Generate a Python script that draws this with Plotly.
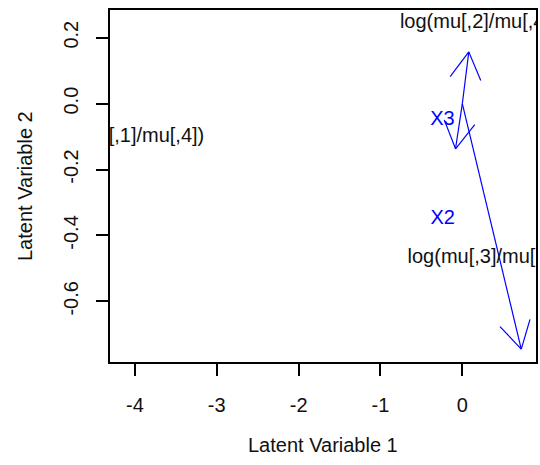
import math
import plotly.graph_objects as go

# ---- data ----
var_names = ["log(mu[,1]/mu[,4])", "log(mu[,2]/mu[,4])", "log(mu[,3]/mu[,4])"]
arrow_x = [-0.083, 0.079, 0.720]
arrow_y = [-0.137, 0.157, -0.745]
label_x = [-4.11, 0.195, 0.288]
label_y = [-0.100, 0.245, -0.469]

site_names = ["X2", "X3"]
site_x = [-0.240, -0.243]
site_y = [-0.350, -0.051]

x_tickvals = [-4, -3, -2, -1, 0]
x_ticktext = ["-4", "-3", "-2", "-1", "0"]
y_tickvals = [-0.6, -0.4, -0.2, 0.0, 0.2]
y_ticktext = ["-0.6", "-0.4", "-0.2", "0.0", "0.2"]

x_title = "Latent Variable 1"
y_title = "Latent Variable 2"

# ---- layout geometry ----
W, H = 540, 465
ML, MR, MT, MB = 110, 2, 10, 103
x_range = [-4.304, 0.900]
y_range = [-0.784, 0.284]
FONT = "Liberation Sans, Arial, sans-serif"
FS = 20
BLUE = "#0000FF"

sx = (W - ML - MR) / (x_range[1] - x_range[0])
sy = (H - MT - MB) / (y_range[1] - y_range[0])

# arrows (shaft + open V head, like R's arrows())
head_len = 31.0
head_ang = math.radians(30)
ax_pts, ay_pts = [], []
for tx, ty in zip(arrow_x, arrow_y):
    ax_pts += [0, tx, None]
    ay_pts += [0, ty, None]
    dxp, dyp = tx * sx, ty * sy
    n = math.hypot(dxp, dyp)
    bx, by = -dxp / n, -dyp / n
    for s in (1, -1):
        c, si = math.cos(s * head_ang), math.sin(s * head_ang)
        rx, ry = bx * c - by * si, bx * si + by * c
        ax_pts += [tx + head_len * rx / sx, tx, None]
        ay_pts += [ty + head_len * ry / sy, ty, None]

fig = go.Figure()
fig.add_trace(go.Scatter(x=ax_pts, y=ay_pts, mode="lines",
                         line=dict(color=BLUE, width=1.2),
                         hoverinfo="skip", cliponaxis=True))
fig.add_trace(go.Scatter(x=label_x, y=label_y, mode="text", text=var_names,
                         textposition="middle center",
                         textfont=dict(family=FONT, size=FS, color="#111111"),
                         cliponaxis=True))
fig.add_trace(go.Scatter(x=site_x, y=site_y, mode="text", text=site_names,
                         textposition="middle center",
                         textfont=dict(family=FONT, size=FS, color=BLUE),
                         cliponaxis=True))

axis_common = dict(showgrid=False, zeroline=False, showline=True, mirror=True,
                   linecolor="black", linewidth=1.5, ticks="outside", ticklen=12,
                   tickwidth=1.5, tickcolor="black",
                   tickfont=dict(family=FONT, size=FS, color="#111111"))

fig.update_layout(
    width=W, height=H,
    margin=dict(l=ML, r=MR, t=MT, b=MB),
    paper_bgcolor="white", plot_bgcolor="white",
    showlegend=False,
    xaxis=dict(range=x_range, tickmode="array", tickvals=x_tickvals,
               ticktext=x_ticktext, ticklabelstandoff=12, **axis_common),
    yaxis=dict(range=y_range, tickmode="array", tickvals=y_tickvals,
               ticktext=y_ticktext, tickangle=-90, ticklabelstandoff=10,
               **axis_common),
    annotations=[
        dict(text=x_title, xref="paper", yref="paper", x=0.5, y=0,
             yshift=-83, xanchor="center", yanchor="middle", showarrow=False,
             font=dict(family=FONT, size=FS, color="#111111")),
        dict(text=y_title, xref="paper", yref="paper", x=0, y=0.5,
             xshift=-85, xanchor="center", yanchor="middle", textangle=-90,
             showarrow=False, font=dict(family=FONT, size=FS, color="#111111")),
    ],
)

fig.write_html("out.html", config={"displayModeBar": False},
               post_script="document.body.style.margin='0';document.body.style.overflow='hidden';")
